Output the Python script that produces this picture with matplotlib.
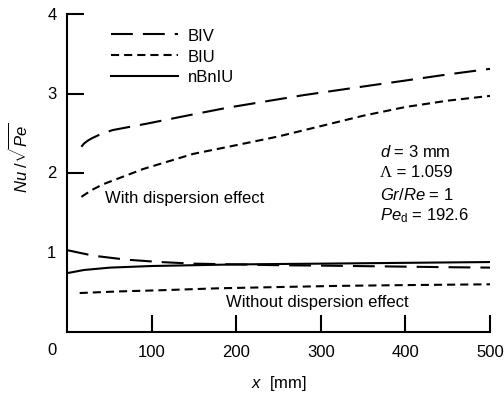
import matplotlib
matplotlib.use("Agg")
import matplotlib.pyplot as plt
from matplotlib.lines import Line2D
from matplotlib import transforms

plt.rcParams['font.family'] = ['Liberation Sans', 'DejaVu Sans']
plt.rcParams['mathtext.fontset'] = 'custom'
plt.rcParams['mathtext.rm'] = 'Liberation Sans'
plt.rcParams['mathtext.it'] = 'Liberation Sans:italic'
plt.rcParams['mathtext.sf'] = 'Liberation Sans'
plt.rcParams['mathtext.bf'] = 'Liberation Sans:bold'

# --- data ---
biv_with_x = [17, 20, 25, 30, 40, 54, 94, 141, 189, 240, 280, 319, 358, 398, 450, 500]
biv_with_y = [2.33, 2.37, 2.41, 2.44, 2.49, 2.54, 2.62, 2.72, 2.82, 2.91, 2.98, 3.04, 3.10, 3.16, 3.24, 3.31]

biu_with_x = [17, 30, 43, 90, 149, 200, 250, 300, 350, 400, 450, 500]
biu_with_y = [1.70, 1.79, 1.86, 2.05, 2.24, 2.35, 2.46, 2.59, 2.72, 2.83, 2.91, 2.97]

biv_without_x = [0, 31, 70, 110, 149, 200, 250, 300, 378, 450, 500]
biv_without_y = [1.03, 0.96, 0.91, 0.88, 0.86, 0.85, 0.84, 0.835, 0.825, 0.815, 0.81]

nbniu_x = [0, 20, 51, 100, 149, 200, 248, 300, 400, 500]
nbniu_y = [0.74, 0.78, 0.81, 0.83, 0.84, 0.85, 0.855, 0.86, 0.87, 0.88]

biu_without_x = [15, 60, 110, 180, 248, 320, 400, 500]
biu_without_y = [0.49, 0.51, 0.525, 0.55, 0.565, 0.58, 0.59, 0.60]

legend_labels = ['BIV', 'BIU', 'nBnIU']
x_ticks = [100, 200, 300, 400, 500]
y_ticks = [2, 3, 4]
y_tick_labels_all = [1, 2, 3, 4]

fig = plt.figure(figsize=(5.04, 4.02), dpi=100)
ax = fig.add_axes([67/504, 1-333/402, 423/504, 318/402])

lw = 1.5
dash_long = (0, (10.5, 4.8))
dash_short = (0, (3.9, 2.4))

ax.plot(biv_with_x, biv_with_y, color='black', lw=lw, linestyle=dash_long)
ax.plot(biu_with_x, biu_with_y, color='black', lw=lw, linestyle=dash_short)
ax.plot(biv_without_x, biv_without_y, color='black', lw=lw, linestyle=dash_long)
ax.plot(nbniu_x, nbniu_y, color='black', lw=lw, linestyle='-')
ax.plot(biu_without_x, biu_without_y, color='black', lw=lw, linestyle=dash_short)

ax.set_xlim(0, 500)
ax.set_ylim(0, 4)
ax.spines['top'].set_visible(False)
ax.spines['right'].set_visible(False)
for s in ('left', 'bottom'):
    ax.spines[s].set_linewidth(1.5)

ax.set_xticks(x_ticks)
ax.set_xticklabels([str(v) for v in x_ticks], fontsize=12)
ax.set_yticks(y_ticks)
ax.set_yticklabels([])
ax.tick_params(axis='both', direction='in', length=12, width=1.5)
ax.tick_params(axis='x', pad=9)

# y tick labels (including 1 and the shared origin 0)
for v in y_tick_labels_all:
    ax.text(-0.025, v, str(v), transform=ax.get_yaxis_transform(),
            ha='right', va='center', fontsize=12)
ax.text(-0.025, -18/318, '0', transform=ax.transAxes, ha='right', va='center', fontsize=12)

ax.set_xlabel(r'$x$  [mm]', fontsize=12, labelpad=10)
ax.set_ylabel(r'$Nu$ /$\sqrt{Pe}$', fontsize=12)
ax.yaxis.set_label_coords(-0.085, 0.55)

handles = [Line2D([], [], color='black', lw=lw, linestyle=dash_long),
           Line2D([], [], color='black', lw=lw, linestyle=dash_short),
           Line2D([], [], color='black', lw=lw, linestyle='-')]
ax.legend(handles, legend_labels, loc='upper left', bbox_to_anchor=(0.104, 0.957),
          frameon=False, fontsize=12, handlelength=4.0, handletextpad=0.6,
          labelspacing=0.35, borderpad=0, borderaxespad=0)

ax.text(105/504, 1-199/402, 'With dispersion effect', transform=fig.transFigure,
        ha='left', va='center', fontsize=12)
ax.text(226/504, 1-303/402, 'Without dispersion effect', transform=fig.transFigure,
        ha='left', va='center', fontsize=12)

ann_x = 380/504
ax.text(ann_x, 1-152/402, r'$d$ = 3 mm', transform=fig.transFigure, ha='left', va='center', fontsize=12)
ax.text(ann_x, 1-173/402, 'Λ', transform=fig.transFigure, ha='left', va='center',
        fontsize=12, family=['Liberation Serif', 'DejaVu Serif'])
ax.text(ann_x, 1-173/402, ' = 1.059',
        transform=transforms.offset_copy(fig.transFigure, fig=fig, x=12, y=0, units='dots'),
        ha='left', va='center', fontsize=12)
ax.text(ann_x, 1-195/402, r'$Gr$/$Re$ = 1', transform=fig.transFigure, ha='left', va='center', fontsize=12)
ax.text(ann_x, 1-216/402, r'$Pe_{\mathrm{d}}$ = 192.6', transform=fig.transFigure, ha='left', va='center', fontsize=12)

fig.savefig('out.png', dpi=100)
